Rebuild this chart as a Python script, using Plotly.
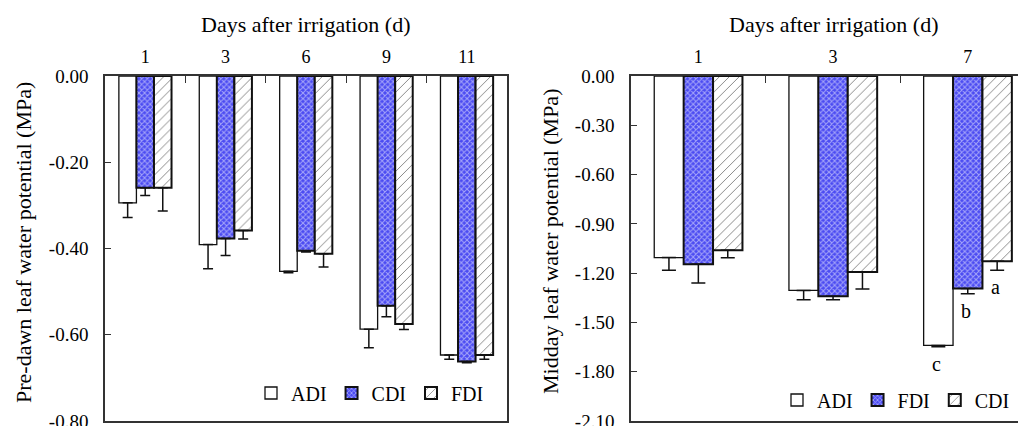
import plotly.graph_objects as go

# ---------------- data ----------------
days_pre = ["1", "3", "6", "9", "11"]
pre_adi = [-0.294, -0.391, -0.453, -0.587, -0.647]
pre_adi_err = [0.034, 0.056, 0.003, 0.043, 0.010]
pre_cdi = [-0.259, -0.377, -0.405, -0.533, -0.662]
pre_cdi_err = [0.018, 0.039, 0.003, 0.025, 0.003]
pre_fdi = [-0.259, -0.358, -0.412, -0.575, -0.647]
pre_fdi_err = [0.054, 0.020, 0.031, 0.013, 0.010]

days_mid = ["1", "3", "7"]
mid_adi = [-1.105, -1.305, -1.640]
mid_adi_err = [0.078, 0.057, 0.008]
mid_fdi = [-1.146, -1.341, -1.293]
mid_fdi_err = [0.114, 0.021, 0.032]
mid_cdi = [-1.061, -1.193, -1.128]
mid_cdi_err = [0.045, 0.104, 0.055]
# significance letters on the last day (ADI, FDI, CDI)
mid_letters = ["c", "b", "a"]

pre_yticks = [0.0, -0.2, -0.4, -0.6, -0.8]
pre_yticklabels = ["0.00", "-0.20", "-0.40", "-0.60", "-0.80"]
mid_yticks = [0.0, -0.3, -0.6, -0.9, -1.2, -1.5, -1.8, -2.1]
mid_yticklabels = ["0.00", "-0.30", "-0.60", "-0.90", "-1.20", "-1.50", "-1.80", "-2.10"]

# ---------------- styles ----------------
FONT = "Liberation Serif"
W, H = 1018, 426
BLUE = "#4b4bf2"

style_white = dict(color="white", line=dict(color="#111", width=1.3))
style_blue = dict(color=BLUE, line=dict(color="#111", width=2),
                  pattern=dict(shape="x", fgcolor="white", bgcolor=BLUE, size=4, solidity=0.45))
style_hatch = dict(color="white", line=dict(color="#111", width=2),
                   pattern=dict(shape="/", fgcolor="#111", bgcolor="white", size=7, solidity=0.14))


def err(arr, w):
    return dict(type="data", symmetric=False, array=[0] * len(arr), arrayminus=arr,
                color="#111", thickness=1.5, width=w)


fig = go.Figure()

# left panel
for name, vals, errs, st in [("ADI", pre_adi, pre_adi_err, style_white),
                             ("CDI", pre_cdi, pre_cdi_err, style_blue),
                             ("FDI", pre_fdi, pre_fdi_err, style_hatch)]:
    fig.add_trace(go.Bar(x=days_pre, y=vals, name=name, marker=st, error_y=err(errs, 5),
                         xaxis="x", yaxis="y", legend="legend"))

# right panel
for name, vals, errs, st in [("ADI", mid_adi, mid_adi_err, style_white),
                             ("FDI", mid_fdi, mid_fdi_err, style_blue),
                             ("CDI", mid_cdi, mid_cdi_err, style_hatch)]:
    fig.add_trace(go.Bar(x=days_mid, y=vals, name=name, marker=st, error_y=err(errs, 7),
                         xaxis="x2", yaxis="y2", legend="legend2"))

ydom = [1 - 421 / H, 1 - 76 / H]
axis_font = dict(family=FONT, size=18, color="black")
yaxis_font = dict(family=FONT, size=19, color="black")
xcommon = dict(type="category", side="top", showline=True, linecolor="#333", linewidth=1.5,
               mirror=True, ticks="inside", tickson="boundaries", ticklen=7, tickcolor="#333",
               tickfont=axis_font, showgrid=False, zeroline=False, ticklabelstandoff=4,
               automargin=False)
ycommon = dict(showline=True, linecolor="#333", linewidth=1.5, ticks="inside", ticklen=6,
               tickcolor="#333", tickfont=yaxis_font, showgrid=False, zeroline=False,
               ticklabelstandoff=11, automargin=False, ticklabeloverflow="allow")

fig.update_layout(
    width=W, height=H,
    margin=dict(l=0, r=0, t=0, b=0, pad=0, autoexpand=False),
    paper_bgcolor="white", plot_bgcolor="white",
    barmode="group", bargap=0.345, bargroupgap=0,
    font=dict(family=FONT, size=18, color="black"),
    xaxis=dict(domain=[105 / W, 507 / W], anchor="y",
               range=[-0.5, len(days_pre) - 0.5], **xcommon),
    yaxis=dict(domain=ydom, anchor="x", range=[-0.8, 0], tickvals=pre_yticks,
               ticktext=pre_yticklabels, mirror=True, **ycommon),
    xaxis2=dict(domain=[631 / W, 1.0], anchor="y2",
                range=[-0.5, -0.5 + (W - 631) / 134.7], **xcommon),
    yaxis2=dict(domain=ydom, anchor="x2", range=[-2.1, 0], tickvals=mid_yticks,
                ticktext=mid_yticklabels, **ycommon),
    legend=dict(orientation="h", x=251 / W, xanchor="left", y=1 - 393 / H, yanchor="middle",
                font=dict(family=FONT, size=20), bgcolor="rgba(0,0,0,0)", borderwidth=0),
    legend2=dict(orientation="h", x=777 / W, xanchor="left", y=1 - 400 / H, yanchor="middle",
                 font=dict(family=FONT, size=20), bgcolor="rgba(0,0,0,0)", borderwidth=0),
    showlegend=True,
)

title_font = dict(family=FONT, size=22, color="black")
annotations = [
    dict(text="Days after irrigation (d)", xref="paper", yref="paper",
         x=(105 + 507) / 2 / W, y=1 - 25 / H, showarrow=False, font=title_font,
         xanchor="center", yanchor="middle"),
    dict(text="Days after irrigation (d)", xref="paper", yref="paper",
         x=834 / W, y=1 - 25 / H, showarrow=False, font=title_font,
         xanchor="center", yanchor="middle"),
    dict(text="Pre-dawn leaf water potential (MPa)", xref="paper", yref="paper",
         x=23 / W, y=1 - 243 / H, showarrow=False, font=title_font, textangle=-90,
         xanchor="center", yanchor="middle"),
    dict(text="Midday leaf water potential (MPa)", xref="paper", yref="paper",
         x=550 / W, y=1 - 242 / H, showarrow=False, font=title_font, textangle=-90,
         xanchor="center", yanchor="middle"),
]
# significance letters under the last-day bars (category index of the last day)
bar_px = 29.5
last_idx = len(days_mid) - 1
for i, (letter, v, e) in enumerate(zip(mid_letters,
                                        [mid_adi[-1], mid_fdi[-1], mid_cdi[-1]],
                                        [mid_adi_err[-1], mid_fdi_err[-1], mid_cdi_err[-1]])):
    annotations.append(dict(text=letter, xref="x2", yref="y2", x=last_idx, y=v - e,
                            xshift=(i - 1) * bar_px - 2, yshift=-4, showarrow=False,
                            xanchor="center", yanchor="top",
                            font=dict(family=FONT, size=20, color="black")))
fig.update_layout(annotations=annotations)

fig.write_html("out.html", config={"displayModeBar": False},
               post_script="document.body.style.margin='0';document.body.style.padding='0';"
                           "document.body.style.overflow='hidden';")
